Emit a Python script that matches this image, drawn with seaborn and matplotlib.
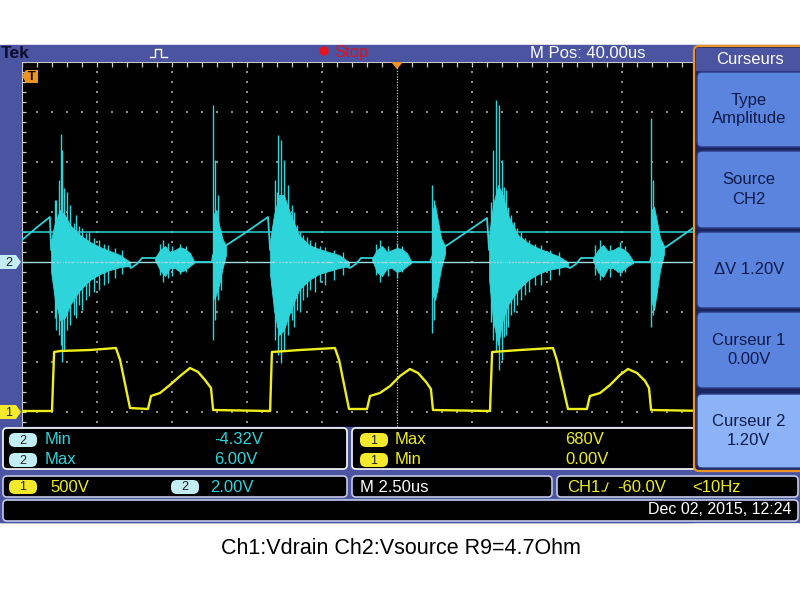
import numpy as np
import pandas as pd
import seaborn as sns
import matplotlib.pyplot as plt
from matplotlib.patches import Rectangle, FancyBboxPatch, Polygon, Circle

# ---- scope settings ----
time_per_div = 2.5      # us  (M 2.50us)
ch1_per_div = 500       # V
ch2_per_div = 2.0       # V
ch1_offset_div = -3     # CH1 ground marker 3 div below centre
ch2_offset_div = 0

# ---- CH1 : Vdrain (V) ----
ch1_time = [0.0, 1.0, 1.07, 1.27, 2.27, 3.13, 3.27, 3.6, 4.2, 4.3, 4.6, 4.93, 5.27, 5.6, 5.87, 6.1, 6.3, 6.37,
            8.27, 8.33, 9.27, 10.43, 10.57, 10.9, 11.5, 11.6, 11.93, 12.27, 12.6, 12.93, 13.2, 13.47, 13.63, 13.7,
            15.6, 15.67, 16.6, 17.7, 17.83, 18.2, 18.83, 18.93, 19.27, 19.6, 19.93, 20.2, 20.5, 20.77, 20.9, 20.97,
            22.93, 23.0, 25.0]
ch1_volt = [10, 10, 600, 610, 620, 640, 520, 40, 30, 160, 190, 270, 360, 440, 400, 320, 240, 20,
            10, 600, 620, 640, 520, 30, 30, 160, 190, 260, 360, 430, 390, 300, 230, 20,
            10, 600, 620, 640, 520, 30, 30, 160, 190, 270, 370, 430, 390, 310, 240, 20,
            10, 600, 620]

# ---- CH2 : Vsource (V), slow part of the trace ----
ch2_time = [0.0, 0.47, 0.93, 0.97, 1.6, 2.6, 3.43, 3.63, 3.83, 4.0, 4.43, 5.1, 5.77, 6.33,
            6.37, 6.67, 7.43, 8.2, 8.27, 9.27, 10.27, 10.93, 11.13, 11.3, 11.67, 12.43, 13.0, 13.6,
            13.7, 14.03, 14.77, 15.5, 15.57, 16.6, 17.6, 18.27, 18.47, 18.63, 19.03, 19.77, 20.37, 20.93,
            21.0, 21.37, 22.37, 22.93]
ch2_volt = [0.88, 1.36, 1.8, 0.48, 0.4, 0.24, 0.08, -0.24, -0.08, 0.16, 0.16, 0.16, 0.0, 0.0,
            0.28, 0.56, 1.16, 1.8, 0.48, 0.24, 0.08, -0.24, -0.08, 0.16, 0.16, 0.12, 0.0, 0.0,
            0.28, 0.56, 1.16, 1.76, 0.48, 0.28, 0.08, -0.24, -0.08, 0.16, 0.16, 0.12, 0.0, 0.0,
            0.28, 0.52, 1.36, 1.8]

# ---- CH2 ringing bursts : dense envelope ----
ring_burst = [1] * 11 + [2] * 9 + [3] * 5 + [4] * 11 + [5] * 9 + [6] * 5 + [7] * 11 + [8] * 9 + [9] * 5
ring_time = [0.97, 1.1, 1.27, 1.43, 1.6, 1.93, 2.27, 2.6, 2.93, 3.27, 3.6,
             4.43, 4.6, 4.77, 4.93, 5.1, 5.27, 5.43, 5.6, 5.73,
             6.37, 6.47, 6.57, 6.67, 6.8,
             8.27, 8.4, 8.57, 8.73, 8.9, 9.23, 9.57, 9.9, 10.23, 10.57, 10.9,
             11.67, 11.83, 12.0, 12.17, 12.33, 12.5, 12.67, 12.83, 12.97,
             13.67, 13.77, 13.87, 13.97, 14.1,
             15.57, 15.7, 15.87, 16.03, 16.2, 16.53, 16.87, 17.2, 17.53, 17.87, 18.2,
             19.03, 19.2, 19.37, 19.53, 19.7, 19.87, 20.03, 20.2, 20.37,
             20.97, 21.07, 21.17, 21.27, 21.4]
ring_hi = [0.88, 1.6, 2.08, 1.88, 1.48, 1.08, 0.8, 0.6, 0.44, 0.28, 0.0,
           0.16, 0.48, 0.64, 0.4, 0.48, 0.6, 0.52, 0.36, 0.04,
           1.88, 2.08, 1.48, 0.96, 0.64,
           0.88, 1.88, 2.68, 2.68, 2.08, 1.08, 0.68, 0.52, 0.4, 0.28, 0.0,
           0.16, 0.48, 0.64, 0.4, 0.48, 0.56, 0.52, 0.36, 0.04,
           2.08, 2.28, 1.6, 0.96, 0.64,
           1.08, 2.28, 3.08, 2.68, 1.88, 1.08, 0.76, 0.56, 0.4, 0.24, 0.0,
           0.16, 0.48, 0.68, 0.44, 0.48, 0.6, 0.52, 0.36, 0.04,
           2.08, 2.2, 1.6, 0.96, 0.64]
ring_lo = [-0.4, -1.52, -2.32, -2.24, -1.72, -1.12, -0.72, -0.48, -0.32, -0.2, -0.16,
           0.08, -0.32, -0.56, -0.24, -0.24, -0.4, -0.32, -0.16, -0.04,
           -1.52, -1.32, -0.92, -0.32, 0.28,
           -0.52, -1.92, -2.92, -2.72, -2.12, -1.12, -0.72, -0.48, -0.36, -0.24, -0.16,
           0.08, -0.4, -0.56, -0.24, -0.24, -0.4, -0.32, -0.16, -0.04,
           -1.32, -1.52, -0.92, -0.24, 0.32,
           -0.72, -2.32, -3.32, -2.32, -1.72, -1.12, -0.72, -0.48, -0.32, -0.24, -0.16,
           0.08, -0.4, -0.6, -0.24, -0.24, -0.4, -0.32, -0.16, -0.04,
           -1.52, -1.92, -1.12, -0.32, 0.32]

# ---- CH2 single spikes (hairs) ----
hair_time = [1.1, 1.13, 1.23, 1.3, 1.33, 1.4, 1.5, 1.6, 1.73, 1.8, 1.9, 2.0, 2.13, 2.23, 2.4, 2.57, 2.73, 2.87, 3.1, 3.33,
             4.6, 4.7, 4.87, 5.0, 5.27, 5.47, 6.37, 6.43, 6.53, 6.63,
             8.43, 8.5, 8.53, 8.63, 8.73, 8.87, 9.0, 9.07, 9.17, 9.27, 9.37, 9.5, 9.6, 9.77, 9.93, 10.1, 10.4, 10.7,
             11.8, 11.93, 12.2, 12.5, 12.67, 13.67, 13.73, 13.83,
             15.63, 15.7, 15.8, 15.9, 16.0, 16.07, 16.13, 16.2, 16.3, 16.4, 16.5, 16.63, 16.77, 16.9, 17.1, 17.3, 17.6, 17.9,
             19.1, 19.27, 19.6, 19.93, 20.1, 20.97, 21.03, 21.13]
hair_hi = [2.48, 2.48, 3.28, 5.12, 4.48, 2.96, 2.8, 2.28, 1.56, 1.88, 1.44, 1.36, 1.16, 1.2, 0.96, 0.88, 0.72, 0.68, 0.56, 0.48,
           0.72, 0.88, 0.76, 0.64, 0.72, 0.64, 6.28, 4.08, 2.68, 1.28,
           3.28, 2.8, 5.08, 4.88, 4.08, 3.08, 2.28, 2.0, 1.48, 1.2, 1.08, 1.0, 0.88, 0.8, 0.64, 0.6, 0.5, 0.4,
           0.72, 0.88, 0.64, 0.76, 0.64, 3.08, 2.48, 1.4,
           2.4, 4.48, 6.48, 6.28, 4.08, 3.0, 2.88, 2.2, 1.88, 1.6, 1.36, 1.2, 0.96, 0.9, 0.72, 0.7, 0.5, 0.4,
           0.7, 0.88, 0.7, 0.8, 0.64, 5.76, 3.28, 1.5]
hair_lo = [-2.24, -2.72, -2.92, -3.32, -4.0, -3.52, -2.72, -2.52, -2.12, -2.24, -1.72, -1.92, -1.52, -1.36, -1.2, -1.12, -0.92, -0.84, -0.64, -0.48,
           -0.52, -0.8, -0.64, -0.56, -0.48, -0.4, -3.12, -2.32, -1.52, -1.12,
           -3.12, -2.6, -3.72, -4.04, -3.52, -2.92, -2.32, -2.6, -1.92, -2.0, -1.52, -1.4, -1.12, -1.2, -0.8, -0.9, -0.7, -0.5,
           -0.5, -0.8, -0.56, -0.64, -0.4, -2.84, -2.32, -1.2,
           -2.4, -3.12, -3.6, -4.32, -3.92, -3.0, -2.92, -2.6, -2.12, -2.0, -1.72, -1.5, -1.32, -1.2, -0.92, -0.9, -0.7, -0.5,
           -0.5, -0.72, -0.6, -0.56, -0.4, -2.6, -2.12, -1.4]

cursor_volts = [0.0, 1.20]

CYAN = '#2dd4da'
YELLOW = '#eeee1a'
FRAME = '#4a54a0'
ORANGE = '#ee9424'
BUTTON = '#5a84de'
BUTTON_SEL = '#8db3f7'
NAVY = '#0e1a4a'

plt.rcParams['font.family'] = ['Liberation Sans', 'DejaVu Sans']

fig = plt.figure(figsize=(8, 6), dpi=100)
fig.patch.set_facecolor('white')

# background frame
bg = fig.add_axes([0, 0, 1, 1])
bg.set_xlim(0, 800)
bg.set_ylim(600, 0)
bg.axis('off')
bg.add_patch(Rectangle((0, 45), 800, 477, color=FRAME))

# scope graticule: 10 x 8 divisions
ax = fig.add_axes([22 / 800, 1 - 462 / 600, 750 / 800, 400 / 600])
ax.set_facecolor('black')
for s in ax.spines.values():
    s.set_visible(False)

grid_col = '#8e8e8e'
minor_v = np.arange(-4, 4.001, 0.2)
minor_t = np.arange(0, 25.001, 0.5)
for k in range(1, 10):
    if k == 5:
        continue
    ax.scatter(np.full_like(minor_v, k * time_per_div), minor_v, s=1.3, marker='s', c=grid_col, lw=0)
for k in range(-3, 4):
    if k == 0:
        continue
    ax.scatter(minor_t, np.full_like(minor_t, k), s=1.3, marker='s', c=grid_col, lw=0)
ax.axvline(12.5, color='#c0c0c0', lw=0.9, ls=(0, (1, 1.2)))
ax.axvline(0, color='#c8c8c8', lw=1.5)
ax.axhline(4, color='#c8c8c8', lw=1.5)
ax.vlines(minor_t, 3.9, 4, color='#c8c8c8', lw=0.9)
ax.hlines(minor_v, 0, 0.12, color='#c8c8c8', lw=0.9)

# cursors on CH2
ax.axhline(cursor_volts[0] / ch2_per_div + ch2_offset_div, color='#9fdde0', lw=1)
ax.axhline(cursor_volts[1] / ch2_per_div + ch2_offset_div, color=CYAN, lw=1.1)

# CH2 trace
df2 = pd.DataFrame({'t': ch2_time, 'div': np.array(ch2_volt) / ch2_per_div + ch2_offset_div})
sns.lineplot(data=df2, x='t', y='div', ax=ax, color=CYAN, lw=1.3, sort=False, estimator=None)
ring = pd.DataFrame({'burst': ring_burst, 't': ring_time,
                     'hi': np.array(ring_hi) / ch2_per_div + ch2_offset_div,
                     'lo': np.array(ring_lo) / ch2_per_div + ch2_offset_div})
for _, g in ring.groupby('burst'):
    ax.fill_between(g['t'], g['lo'], g['hi'], color=CYAN, lw=0.6)
ax.vlines(hair_time, np.array(hair_lo) / ch2_per_div + ch2_offset_div,
          np.array(hair_hi) / ch2_per_div + ch2_offset_div, color=CYAN, lw=1.0)

# CH1 trace
df1 = pd.DataFrame({'t': ch1_time, 'div': np.array(ch1_volt) / ch1_per_div + ch1_offset_div})
sns.lineplot(data=df1, x='t', y='div', ax=ax, color=YELLOW, lw=1.7, sort=False, estimator=None)

ax.set_xlim(0, 10 * time_per_div)
ax.set_ylim(-4, 4)
ax.set_xticks([])
ax.set_yticks([])
ax.set_xlabel('')
ax.set_ylabel('')

# overlay: readouts, menu, markers
fg = fig.add_axes([0, 0, 1, 1])
fg.set_xlim(0, 800)
fg.set_ylim(600, 0)
fg.axis('off')


def box(x0, y0, x1, y1, fc, ec, lw=1.2, r=4):
    fg.add_patch(FancyBboxPatch((x0 + r, y0 + r), x1 - x0 - 2 * r, y1 - y0 - 2 * r,
                                boxstyle=f'round,pad={r}', fc=fc, ec=ec, lw=lw))


def pill(xc, yc, label, fc):
    fg.add_patch(FancyBboxPatch((xc - 8, yc - 1), 16, 2, boxstyle='round,pad=6',
                                fc=fc, ec='none'))
    fg.text(xc, yc + 0.5, label, ha='center', va='center', fontsize=9, color='#202020')


fg.add_patch(Rectangle((0, 427), 694, 95, color=FRAME))

# readout rows
box(3, 428, 347, 469, 'black', 'white')
box(352, 428, 696, 469, 'black', 'white')
box(3, 476, 347, 497, 'black', '#c4c9e6')
box(352, 476, 552, 497, 'black', '#c4c9e6')
box(557, 476, 798, 497, 'black', '#c4c9e6')
box(3, 500, 798, 521, 'black', '#c4c9e6')

txt = dict(va='center', fontsize=12)
pill(23, 440, '2', '#c2eef3')
pill(23, 460, '2', '#c2eef3')
fg.text(45, 440, 'Min', color=CYAN, **txt)
fg.text(45, 460, 'Max', color=CYAN, **txt)
fg.text(214, 440, '-4.32V', color=CYAN, **txt)
fg.text(214, 460, '6.00V', color=CYAN, **txt)
pill(374, 440, '1', '#f4ea2c')
pill(374, 460, '1', '#f4ea2c')
fg.text(395, 440, 'Max', color=YELLOW, **txt)
fg.text(395, 460, 'Min', color=YELLOW, **txt)
fg.text(565, 440, '680V', color=YELLOW, **txt)
fg.text(565, 460, '0.00V', color=YELLOW, **txt)

pill(23, 487, '1', '#f4ea2c')
fg.text(50, 487, '500V', color=YELLOW, **txt)
pill(185, 487, '2', '#c2eef3')
fg.text(210, 487, '2.00V', color=CYAN, **txt)
fg.text(360, 487, 'M 2.50us', color='white', **txt)
fg.text(567, 487, 'CH1', color=YELLOW, **txt)
fg.plot([602, 605, 608], [491, 491, 483], color=YELLOW, lw=0.9)
fg.text(617, 487, '-60.0V', color=YELLOW, **txt)
fg.text(692, 487, '<10Hz', color=YELLOW, **txt)
fg.text(791, 510, 'Dec 02, 2015, 12:24', color='white', ha='right', va='center', fontsize=11.5)

# side menu
box(694, 46, 812, 471, '#1a245e', ORANGE, lw=1.6, r=5)
fg.add_patch(Rectangle((696, 48), 110, 22, color=FRAME))
fg.text(750, 59, 'Curseurs', color='white', ha='center', va='center', fontsize=12)
buttons = [(72, 147, ['Type', 'Amplitude']), (151, 228, ['Source', 'CH2']),
           (232, 308, ['\u0394V 1.20V']), (312, 388, ['Curseur 1', '0.00V']),
           (394, 468, ['Curseur 2', '1.20V'])]
for i, (y0, y1, lines) in enumerate(buttons):
    fc = BUTTON_SEL if i == 4 else BUTTON
    box(697, y0, 812, y1, fc, '#2c3c86', lw=1, r=5)
    yc = (y0 + y1) / 2
    if len(lines) == 1:
        fg.text(749, yc, lines[0], color=NAVY, ha='center', va='center', fontsize=12)
    else:
        fg.text(749, yc - 9.5, lines[0], color=NAVY, ha='center', va='center', fontsize=12)
        fg.text(749, yc + 9.5, lines[1], color=NAVY, ha='center', va='center', fontsize=12)

# top bar
fg.text(1, 53, 'Tek', color='#0a0c2c', fontsize=12.5, fontweight='bold', va='center')
fg.plot([150, 155, 155, 161, 161, 167], [57, 57, 49, 49, 57, 57], color='white', lw=1)
fg.add_patch(Circle((324, 51), 4, color='#e8141e'))
fg.text(334, 53, 'Stop', color='#d0182a', fontsize=12, va='center')
fg.text(530, 53, 'M Pos: 40.00us', color='white', fontsize=12, va='center')

# channel and trigger markers
fg.add_patch(Polygon([(0, 255), (16, 255), (21, 262), (16, 269), (0, 269)], fc='#c2eef3', ec='none'))
fg.text(9, 262.5, '2', ha='center', va='center', fontsize=9, color='#202020')
fg.add_patch(Polygon([(0, 405), (16, 405), (21, 412), (16, 419), (0, 419)], fc='#f4ea2c', ec='none'))
fg.text(9, 412.5, '1', ha='center', va='center', fontsize=9, color='#202020')
fg.add_patch(Polygon([(22, 76), (26, 70), (38, 70), (38, 83), (26, 83)], fc=ORANGE, ec='none'))
fg.text(32, 77, 'T', ha='center', va='center', fontsize=9, fontweight='bold', color='black')
fg.add_patch(Polygon([(391, 62), (403, 62), (397, 69)], fc=ORANGE, ec='none'))

fg.text(401, 549, 'Ch1:Vdrain Ch2:Vsource R9=4.7Ohm', ha='center', va='center',
        fontsize=15.5, color='black')

fig.savefig('out.png', dpi=100, facecolor='white')
